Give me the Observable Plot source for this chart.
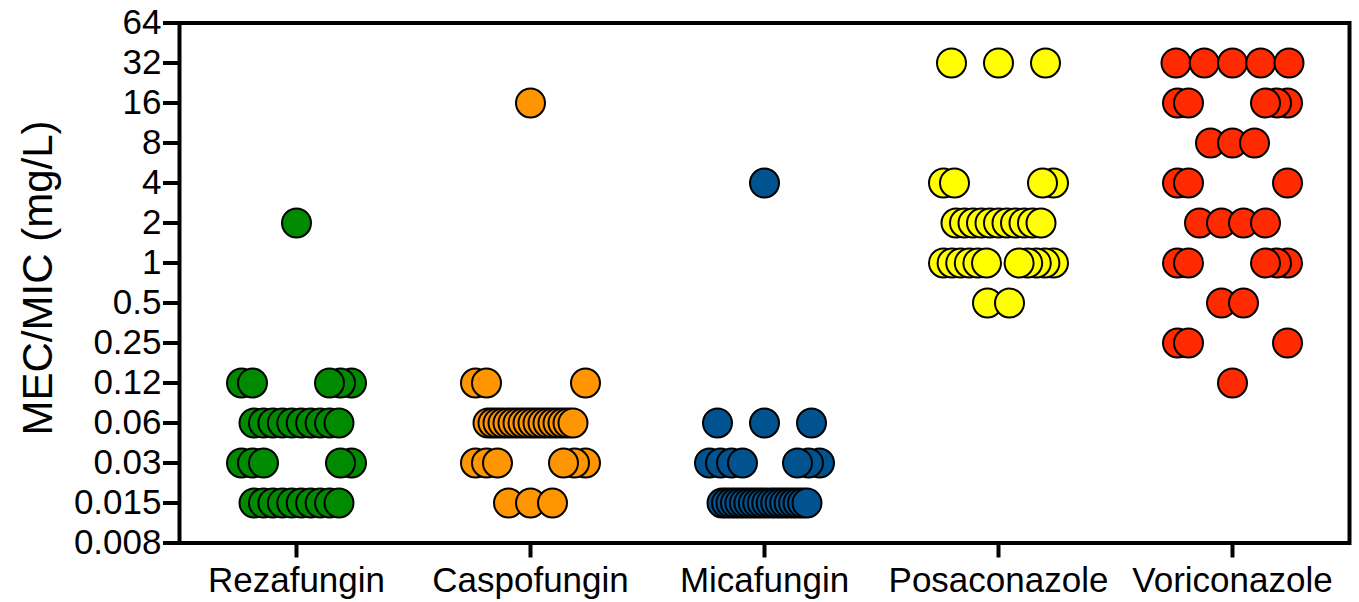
<!DOCTYPE html>
<html>
<head>
<meta charset="utf-8">
<script src="https://cdn.jsdelivr.net/npm/d3@7"></script>
<script src="https://cdn.jsdelivr.net/npm/@observablehq/plot@0.6"></script>
<style>
  html, body { margin: 0; padding: 0; background: #fff; }
  #chart svg { display: block; }
</style>
</head>
<body>
<div id="chart"></div>
<script>
// ---- data ----
const drugs = ["Rezafungin", "Caspofungin", "Micafungin", "Posaconazole", "Voriconazole"];
const yTicks = [0.0078125, 0.015625, 0.03125, 0.0625, 0.125, 0.25, 0.5, 1, 2, 4, 8, 16, 32, 64];
const yTickLabels = ["0.008", "0.015", "0.03", "0.06", "0.12", "0.25", "0.5", "1", "2", "4", "8", "16", "32", "64"];
// [MEC/MIC value (mg/L), number of isolates]
const rezafungin   = [[0.015625, 10], [0.03125, 5], [0.0625, 10], [0.125, 5], [2, 1]];
const caspofungin  = [[0.015625, 3], [0.03125, 6], [0.0625, 18], [0.125, 3], [16, 1]];
const micafungin   = [[0.015625, 20], [0.03125, 7], [0.0625, 3], [4, 1]];
const posaconazole = [[0.5, 2], [1, 11], [2, 11], [4, 4], [32, 3]];
const voriconazole = [[0.125, 1], [0.25, 3], [0.5, 2], [1, 5], [2, 4], [4, 3], [8, 3], [16, 5], [32, 5]];
const series = [rezafungin, caspofungin, micafungin, posaconazole, voriconazole];
const colors = ["#008a00", "#ff9500", "#00538f", "#ffff00", "#ff2a00"];

// ---- scatter layout (computed, GraphPad-like alternating rows) ----
const bandPx = 234;
const points = [];
series.forEach((rows, di) => {
  const sorted = rows.slice().sort((a, b) => a[0] - b[0]);
  const ks = new Set(sorted.map(r => Math.round(Math.log2(r[0]))));
  const k0 = Math.round(Math.log2(sorted[0][0]));
  let splitIdx = 0;
  sorted.forEach(([v, n]) => {
    const k = Math.round(Math.log2(v));
    let mode = (Math.abs(k - k0) % 2 === 0) ? "center" : "split";
    if (n === 1) mode = "center";
    const offs = [];
    if (mode === "center") {
      let sp = 0;
      if (n > 1) {
        sp = ks.has(k + 1) ? Math.min(22, 85 / (n - 1)) : Math.min(47, 113 / (n - 1));
      }
      for (let i = 0; i < n; i++) offs.push((i - (n - 1) / 2) * sp);
    } else {
      const big = Math.ceil(n / 2), small = Math.floor(n / 2);
      const leftFirst = splitIdx % 2 === 0;
      const nl = leftFirst ? big : small, nr = n - nl;
      const H = 55;
      const m = Math.max(nl, nr);
      const sp = m > 1 ? Math.min(11, (H - 12) / (m - 1)) : 0;
      for (let i = 0; i < nl; i++) offs.push(-H + i * sp);
      for (let i = 0; i < nr; i++) offs.push(H - i * sp);
      if (n % 2 === 1) splitIdx++;
    }
    offs.forEach(o => points.push({drug: drugs[di], x: di + o / bandPx, value: v, color: colors[di]}));
  });
});

const font = "'Liberation Sans', Arial, Helvetica, sans-serif";

const chart = Plot.plot({
  width: 1359,
  height: 602,
  marginLeft: 179,
  marginRight: 10,
  marginTop: 22.5,
  marginBottom: 59.5,
  style: {background: "#fff", color: "#000", fontFamily: font},
  x: {type: "linear", domain: [-0.5, 4.5], axis: null},
  y: {type: "log", base: 2, domain: [yTicks[0], yTicks[yTicks.length - 1]], axis: null},
  color: {type: "identity"},
  marks: [
    Plot.frame({stroke: "#000", strokeWidth: 4}),
    Plot.axisY({
      ticks: yTicks,
      tickFormat: d => yTickLabels[yTicks.indexOf(d)],
      tickSize: 16,
      tickPadding: 2,
      strokeWidth: 4,
      fontSize: 35,
      label: null
    }),
    Plot.axisX({
      ticks: drugs.map((d, i) => i),
      tickFormat: i => drugs[i],
      tickSize: 15,
      tickPadding: 9,
      strokeWidth: 4,
      fontSize: 35,
      label: null
    }),
    Plot.text(["MEC/MIC (mg/L)"], {
      frameAnchor: "left",
      textAnchor: "middle",
      rotate: -90,
      dx: -141,
      dy: -5,
      fontSize: 42,
      fill: "#000"
    }),
    Plot.dot(points, {
      x: "x",
      y: "value",
      r: 14.5,
      fill: "color",
      stroke: "#000",
      strokeWidth: 2
    })
  ]
});

document.getElementById("chart").appendChild(chart);
</script>
</body>
</html>
